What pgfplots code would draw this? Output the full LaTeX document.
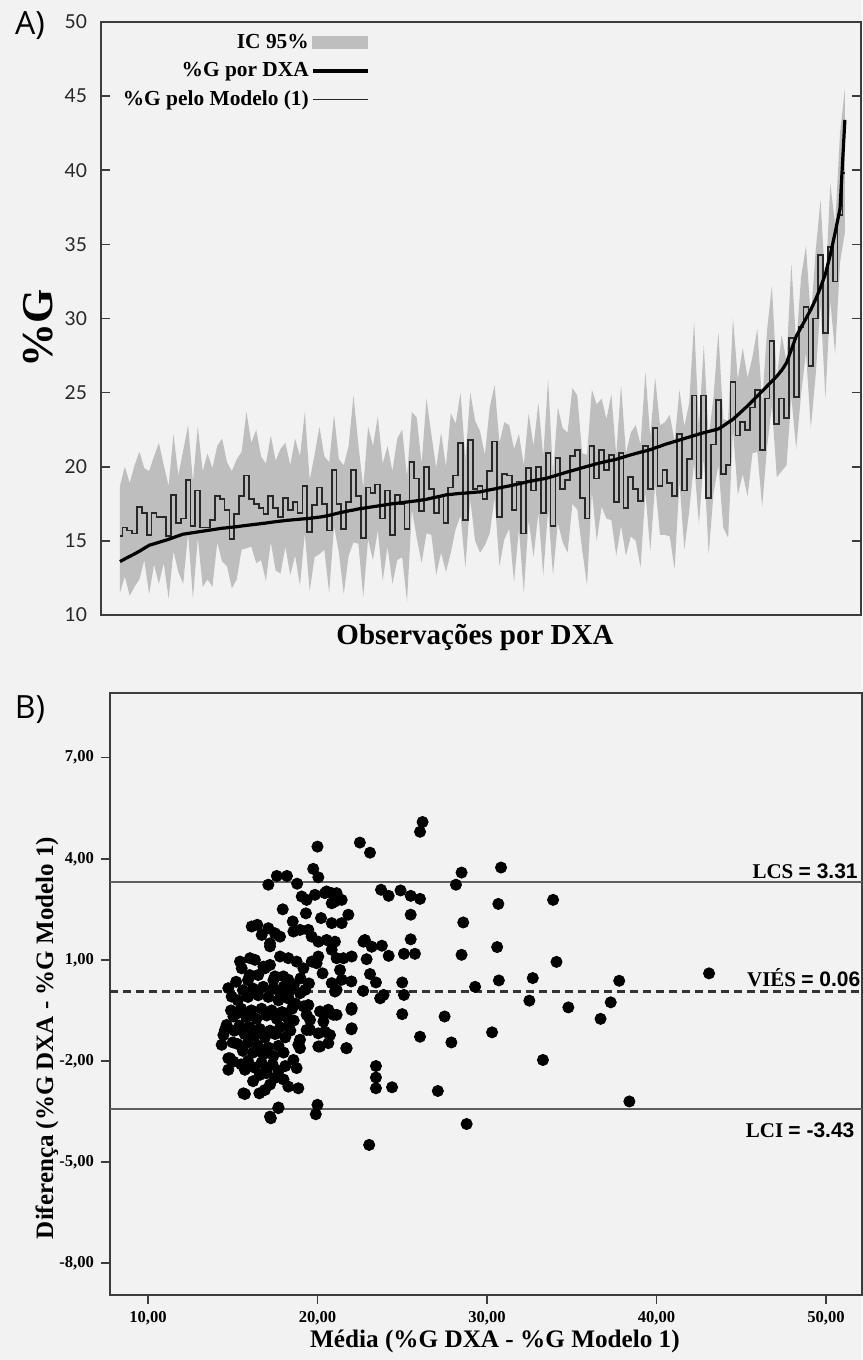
\documentclass[border=0pt]{standalone}
\usepackage{pgfplots}
\pgfplotsset{compat=1.18}
\usepackage{pgfplotstable}
\usepackage{fontspec}
\setmainfont{Liberation Serif}
\newfontfamily\tickfont{Lato}
\newfontfamily\panelfont{Open Sans}
\newfontfamily\sansbold{Liberation Sans}
\definecolor{bg}{RGB}{242,242,242}
\definecolor{band}{RGB}{190,190,190}
\definecolor{axisc}{RGB}{60,60,60}
\definecolor{modelc}{RGB}{40,40,40}
\definecolor{refc}{RGB}{95,95,95}

% observation, %G DXA, %G model (1)
\pgfplotstableread{
i d m
1 13.6 15.3
2 13.78 15.9
3 13.95 15.7
4 14.12 15.5
5 14.3 17.3
6 14.5 16.9
7 14.7 15.4
8 14.8 16.9
9 14.9 16.6
10 15.0 16.6
11 15.1 15.3
12 15.22 18.1
13 15.34 16.2
14 15.45 16.5
15 15.5 19.1
16 15.55 16.0
17 15.6 18.4
18 15.65 15.9
19 15.7 15.9
20 15.75 16.4
21 15.8 18.0
22 15.85 17.8
23 15.88 17.1
24 15.92 15.1
25 15.95 16.8
26 16.0 18.0
27 16.04 19.4
28 16.08 17.8
29 16.12 17.5
30 16.16 17.2
31 16.2 16.8
32 16.25 18.0
33 16.29 17.2
34 16.33 16.6
35 16.37 17.9
36 16.4 17.1
37 16.43 17.6
38 16.46 16.9
39 16.49 18.7
40 16.52 15.6
41 16.56 17.4
42 16.6 18.6
43 16.65 17.5
44 16.72 15.7
45 16.8 19.8
46 16.88 17.5
47 16.95 15.8
48 17.02 17.6
49 17.08 19.8
50 17.15 18.0
51 17.2 15.2
52 17.25 18.6
53 17.3 18.2
54 17.35 18.8
55 17.4 16.5
56 17.45 18.4
57 17.5 15.4
58 17.54 18.1
59 17.58 17.5
60 17.62 15.8
61 17.66 20.3
62 17.7 19.2
63 17.75 17.0
64 17.8 20.0
65 17.88 18.5
66 17.95 16.9
67 18.02 18.0
68 18.1 16.2
69 18.13 18.6
70 18.17 19.4
71 18.2 21.6
72 18.22 16.4
73 18.25 21.8
74 18.28 18.5
75 18.3 18.7
76 18.37 17.8
77 18.44 19.7
78 18.5 21.7
79 18.57 16.6
80 18.64 19.5
81 18.7 19.4
82 18.77 17.1
83 18.85 19.0
84 18.92 15.5
85 19.0 19.9
86 19.06 18.4
87 19.12 20.0
88 19.18 16.9
89 19.25 20.9
90 19.35 16.0
91 19.45 20.6
92 19.55 18.5
93 19.65 19.1
94 19.74 20.7
95 19.83 21.1
96 19.93 17.9
97 20.02 16.5
98 20.11 21.4
99 20.2 19.2
100 20.28 21.1
101 20.36 19.8
102 20.43 20.8
103 20.5 17.6
104 20.6 20.9
105 20.7 17.2
106 20.8 19.3
107 20.89 18.5
108 20.98 17.7
109 21.06 21.4
110 21.15 18.5
111 21.27 22.6
112 21.38 18.7
113 21.5 19.8
114 21.6 18.9
115 21.7 18.0
116 21.8 22.2
117 21.9 18.4
118 22.0 20.5
119 22.1 24.8
120 22.2 19.2
121 22.29 24.8
122 22.38 17.9
123 22.46 21.5
124 22.55 24.5
125 22.75 19.5
126 22.98 20.1
127 23.2 25.7
128 23.5 22.1
129 23.8 23.0
130 24.1 22.5
131 24.43 24.0
132 24.77 25.2
133 25.1 21.1
134 25.43 24.6
135 25.77 28.5
136 26.1 22.9
137 26.5 24.6
138 27.0 23.3
139 27.9 28.7
140 28.8 24.7
141 29.4 29.4
142 30.0 30.8
143 30.6 26.8
144 31.3 30.0
145 32.1 34.3
146 33.0 29.0
147 34.3 34.8
148 35.8 32.5
149 37.4 37.0
150 43.4 39.8
}\dataA

% IC 95% outline: upper limit forward, lower limit backward
\pgfplotstableread{
i v
1 18.7
2 20.0
3 18.9
4 20.1
5 21.0
6 19.9
7 19.7
8 20.7
9 21.6
10 20.1
11 18.7
12 22.2
13 19.4
14 21.1
15 22.8
16 19.0
17 22.7
18 19.7
19 20.9
20 19.9
21 21.4
22 21.9
23 20.3
24 19.7
25 20.5
26 21.0
27 23.7
28 21.6
29 22.5
30 20.7
31 20.2
32 22.1
33 20.4
34 21.2
35 21.6
36 20.1
37 21.9
38 20.7
39 23.7
40 19.1
41 20.8
42 22.7
43 20.7
44 20.3
45 23.5
46 20.5
47 20.1
48 21.4
49 24.8
50 21.5
51 18.6
52 22.7
53 21.4
54 23.4
55 20.2
56 21.4
57 19.7
58 21.9
59 22.5
60 19.3
61 23.7
62 23.3
63 20.2
64 24.6
65 22.2
66 19.9
67 22.3
68 20.0
69 23.6
70 22.9
71 25.0
72 20.5
73 25.0
74 23.1
75 22.4
76 20.8
77 24.0
78 25.5
79 21.6
80 23.0
81 22.8
82 21.2
83 22.2
84 20.1
85 23.6
86 21.4
87 24.3
88 20.7
89 25.9
90 19.5
91 24.0
92 22.6
93 22.3
94 25.3
95 24.8
96 20.9
97 20.8
98 25.2
99 24.2
100 24.6
101 23.2
102 24.9
103 20.8
104 25.5
105 20.9
106 22.3
107 22.8
108 21.5
109 26.4
110 22.0
111 26.0
112 22.8
113 23.0
114 23.5
115 21.7
116 25.2
117 22.7
118 24.3
119 29.8
120 22.7
121 28.2
122 22.0
123 24.7
124 29.1
125 23.2
126 23.1
127 30.0
128 25.9
129 28.0
130 26.0
131 27.4
132 29.3
133 24.3
134 29.2
135 32.2
136 25.9
137 28.9
138 27.1
139 33.7
140 28.2
141 32.8
142 34.9
143 30.0
144 34.6
145 38.0
146 32.0
147 39.1
148 36.3
149 42.5
150 45.5
150 35.8
149 33.8
148 27.6
147 31.2
146 24.6
145 31.0
144 26.2
143 22.6
142 27.7
141 24.9
140 21.2
139 24.7
138 20.1
137 19.7
136 19.3
135 24.1
134 21.3
133 17.3
132 21.0
131 20.9
130 18.0
129 19.5
128 18.1
127 22.5
126 15.2
125 15.9
124 20.1
123 18.2
122 14.1
121 20.6
120 16.1
119 20.3
118 17.0
117 14.4
116 19.0
115 13.1
114 15.3
113 15.4
112 15.4
111 18.8
110 14.3
109 18.3
108 13.2
107 15.0
106 15.3
105 14.0
104 16.0
103 14.0
102 16.4
101 16.5
100 17.3
99 15.0
98 18.3
97 12.0
96 14.4
95 17.1
94 17.5
93 14.2
92 14.9
91 16.2
90 12.7
89 17.1
88 12.7
87 16.9
86 13.9
85 16.4
84 11.5
83 15.8
82 12.2
81 15.8
80 15.1
79 13.3
78 17.9
77 15.5
76 14.7
75 14.2
74 15.0
73 17.8
72 13.2
71 16.7
70 15.8
69 14.2
68 12.9
67 14.2
66 12.7
65 15.4
64 15.5
63 13.5
62 15.2
61 17.1
60 10.9
59 13.9
58 13.7
57 12.1
56 14.6
55 12.3
54 15.7
53 13.7
52 15.1
51 11.2
50 14.8
49 14.9
48 14.0
47 11.4
46 14.2
45 16.0
44 11.5
43 14.4
42 14.1
41 13.9
40 11.6
39 15.5
38 12.0
37 14.0
36 12.7
35 14.6
34 12.8
33 13.0
32 14.9
31 12.3
30 13.7
29 13.5
28 14.6
27 14.5
26 14.4
25 12.4
24 11.8
23 13.3
22 13.6
21 14.9
20 11.9
19 12.4
18 11.9
17 15.2
16 11.1
15 15.5
14 12.1
13 12.9
12 14.3
11 11.1
10 13.5
9 12.1
8 13.4
7 11.4
6 13.7
5 12.4
4 11.9
3 11.3
2 12.6
1 11.5
}\dataBand

\pgfplotstableread{
x y
26.2 5.09
26.05 4.8
28.5 3.59
28.17 3.23
30.83 3.74
26.05 2.81
30.67 2.66
33.9 2.78
28.6 2.11
28.5 1.15
30.6 1.38
34.1 0.94
29.3 0.2
30.7 0.39
32.7 0.46
37.8 0.38
43.1 0.6
32.5 -0.21
34.8 -0.41
37.3 -0.26
36.7 -0.75
27.5 -0.68
26.05 -1.28
27.9 -1.45
30.3 -1.15
33.3 -1.97
27.1 -2.89
38.4 -3.2
28.8 -3.87
20.0 4.36
22.5 4.48
23.1 4.18
19.75 3.7
20.05 3.45
17.6 3.49
18.2 3.49
17.1 3.23
18.8 3.26
23.75 3.08
24.2 2.9
24.9 3.06
25.5 2.9
25.5 2.34
25.5 1.61
25.1 1.18
25.75 1.18
25.0 0.33
25.1 -0.04
25.0 -0.61
23.45 -2.15
23.45 -2.49
23.45 -2.81
24.4 -2.78
23.05 -4.49
20.0 -3.3
19.9 -3.58
17.7 -3.38
17.25 -3.7
22.0 0.36
22.7 0.08
23.7 -0.14
23.9 -0.04
22.0 -0.48
22.0 -1.06
21.7 -1.62
22.8 1.59
23.2 1.39
23.8 1.42
24.2 1.12
22.9 1.02
23.1 0.58
23.45 0.33
19.07 2.88
19.36 2.78
19.85 2.93
20.44 2.98
20.84 2.98
21.03 2.73
21.43 2.78
20.84 2.68
20.54 3.03
21.13 2.98
17.95 2.5
19.32 2.38
20.21 2.24
20.84 2.09
21.43 2.09
21.82 2.34
18.54 2.14
16.12 1.99
16.45 2.04
17.1 1.94
17.49 1.79
17.79 1.69
16.71 1.74
17.2 1.49
17.2 1.4
18.58 1.84
18.97 1.89
19.46 1.89
19.66 1.69
20.05 1.54
20.54 1.59
21.03 1.54
20.84 1.3
21.13 1.05
21.53 1.05
22.02 1.1
22.71 1.54
15.43 0.95
15.53 0.75
16.02 1.05
16.31 1.0
16.9 0.75
17.2 0.85
17.79 1.1
18.28 1.05
18.77 0.95
19.17 0.75
19.66 0.95
20.05 1.1
19.95 0.9
17.49 0.51
17.99 0.51
18.28 0.41
21.33 0.7
21.43 0.41
20.84 0.31
21.13 0.11
21.03 0.06
16.81 0.8
16.5 0.55
15.9 0.4
19.0 0.45
19.5 0.3
20.3 0.6
14.74 0.16
14.94 -0.09
15.04 -0.68
14.64 -0.93
14.45 -1.23
14.35 -1.52
14.74 -1.92
14.74 -2.26
15.04 -2.02
15.72 -2.26
15.63 -2.96
16.57 -2.96
16.9 -2.86
16.61 -2.41
17.0 -2.36
18.28 -2.76
18.87 -2.81
18.58 -1.97
18.77 -2.21
17.69 -3.4
17.2 -3.65
20.05 -1.57
20.64 -1.47
21.72 -1.62
22.02 -1.03
22.02 -0.43
21.13 -0.63
20.64 -0.48
20.35 -0.83
20.44 -1.13
20.74 -1.23
19.56 -1.08
18.97 -1.37
18.97 -1.62
19.36 -0.63
19.17 -0.38
19.46 -0.34
18.97 0.01
19.27 0.11
18.28 0.01
17.79 0.01
20.15 -0.53
20.54 -0.58
20.94 -0.63
20.05 -1.18
20.15 -1.57
18.87 -1.52
19.36 -1.08
19.56 -0.78
14.54 -1.08
14.84 -1.92
15.72 -2.98
15.3 -0.2
15.6 0.1
15.9 -0.1
16.2 0.15
16.5 -0.05
16.8 0.2
17.1 -0.1
17.4 0.15
17.7 -0.2
18.0 0.2
18.3 -0.15
15.2 -0.6
15.5 -0.45
15.8 -0.7
16.1 -0.5
16.4 -0.75
16.7 -0.45
17.0 -0.65
17.3 -0.5
17.6 -0.75
17.9 -0.55
18.2 -0.7
18.5 -0.45
15.1 -1.1
15.4 -0.95
15.7 -1.2
16.0 -1.0
16.3 -1.25
16.6 -1.05
16.9 -1.3
17.2 -1.1
17.5 -1.2
17.8 -1.0
18.1 -1.3
18.4 -1.1
15.3 -1.5
15.6 -1.7
15.9 -1.45
16.2 -1.75
16.5 -1.55
16.8 -1.8
17.1 -1.6
17.4 -1.85
17.7 -1.55
18.0 -1.75
15.5 -2.1
15.9 -2.0
16.3 -2.2
16.7 -2.05
17.0 -2.25
17.35 -2.1
17.7 -2.3
18.1 -2.15
17.2 -2.7
17.5 -2.5
16.2 -2.6
18.3 -0.95
18.6 -0.8
18.0 -2.55
15.0 -1.45
14.9 -0.5
15.2 0.35
16.0 0.55
17.4 0.4
18.6 0.25
18.7 -0.3
}\dataB

\begin{document}
\begin{tikzpicture}
\fill[bg] (0,0) rectangle (431pt,680pt);

% ---------- Panel A ----------
\begin{axis}[
  at={(50.5pt,372.5pt)}, anchor=south west,
  width=380pt, height=296.5pt, scale only axis,
  xmin=-2.9, xmax=153.3, ymin=10, ymax=50,
  xtick=\empty,
  ytick={10,15,...,50},
  ytick pos=both, yticklabel pos=left,
  tick align=inside, major tick length=4.5pt,
  axis line style={axisc, line width=0.8pt},
  every tick/.style={axisc, line width=0.8pt},
  yticklabel style={font=\tickfont\fontsize{9.6}{11}\selectfont, text=black!85, xshift=-3.5pt},
  /pgf/number format/assume math mode=true,
  legend style={at={(0.025,0.984)}, anchor=north west, draw=none, fill=none,
    font=\bfseries\fontsize{10.7}{12}\selectfont, row sep=3pt,
    inner sep=0pt, nodes={inner sep=1.2pt}},
  legend cell align=right,
  legend plot pos=right,
]
\addlegendimage{legend image code/.code={\fill[band] (0pt,-3pt) rectangle (27.5pt,3pt);}}
\addlegendentry{IC 95\%}
\addlegendimage{legend image code/.code={\draw[black, line width=1.6pt] (0pt,0pt) -- (27.5pt,0pt);}}
\addlegendentry{\%G por DXA}
\addlegendimage{legend image code/.code={\draw[modelc, line width=0.7pt] (0pt,0pt) -- (27.5pt,0pt);}}
\addlegendentry{\%G pelo Modelo (1)}

\addplot[fill=band, draw=none, forget plot] table[x=i, y=v] {\dataBand} -- cycle;
\addplot[const plot mark mid, modelc, line width=0.9pt, forget plot] table[x=i, y=m] {\dataA};
\addplot[black, line width=1.6pt, forget plot] table[x=i, y=d] {\dataA};
\end{axis}

\node[rotate=90, font=\bfseries\fontsize{22}{24}\selectfont] at (19pt,516pt) {\%G};
\node[font=\bfseries\fontsize{14.5}{16}\selectfont] at (237.5pt,361pt) {Observações por DXA};
\node[font=\panelfont\fontsize{16}{18}\selectfont] at (15pt,667pt) {A)};

% ---------- Panel B ----------
\begin{axis}[
  at={(55pt,32.5pt)}, anchor=south west,
  width=376pt, height=301pt, scale only axis,
  xmin=7.76, xmax=52.12, ymin=-8.94, ymax=8.92,
  xtick={10,20,...,50}, ytick={-8,-5,-2,1,4,7},
  tick pos=left, tick align=outside, major tick length=4.5pt,
  axis line style={axisc, line width=0.8pt},
  every tick/.style={axisc, line width=0.8pt},
  ticklabel style={font=\bfseries\fontsize{8.3}{10}\selectfont},
  /pgf/number format/fixed,
  /pgf/number format/fixed zerofill,
  /pgf/number format/precision=2,
  /pgf/number format/use comma,
  /pgf/number format/assume math mode=true,
  clip=true,
]
\addplot[refc, line width=1pt] coordinates {(7.76,3.31) (52.12,3.31)};
\addplot[refc, line width=1pt] coordinates {(7.76,-3.43) (52.12,-3.43)};
\addplot[black!80, line width=1.1pt, dash pattern=on 4pt off 2.5pt] coordinates {(7.76,0.06) (52.12,0.06)};
\addplot[only marks, mark=*, mark size=2.8pt, black] table[x=x, y=y] {\dataB};

\node[anchor=base east, inner sep=0pt, font=\bfseries\fontsize{10.5}{12}\selectfont] at (axis cs:51.89,3.40) {LCS {\sansbold\bfseries = 3.31}};
\node[anchor=base east, inner sep=0pt, font=\bfseries\fontsize{10.5}{12}\selectfont] at (axis cs:52.05,0.21) {VIÉS {\sansbold\bfseries = 0.06}};
\node[anchor=base east, inner sep=0pt, font=\bfseries\fontsize{10.5}{12}\selectfont] at (axis cs:51.7,-4.28) {LCI {\sansbold\bfseries = -3.43}};
\end{axis}

\node[rotate=90, font=\bfseries\fontsize{12.5}{14}\selectfont] at (23.5pt,161pt) {Diferença (\%G DXA - \%G Modelo 1)};
\node[font=\bfseries\fontsize{12.6}{14}\selectfont] at (247.5pt,9pt) {Média (\%G DXA - \%G Modelo 1)};
\node[font=\panelfont\fontsize{16}{18}\selectfont] at (15pt,325pt) {B)};

\end{tikzpicture}
\end{document}
